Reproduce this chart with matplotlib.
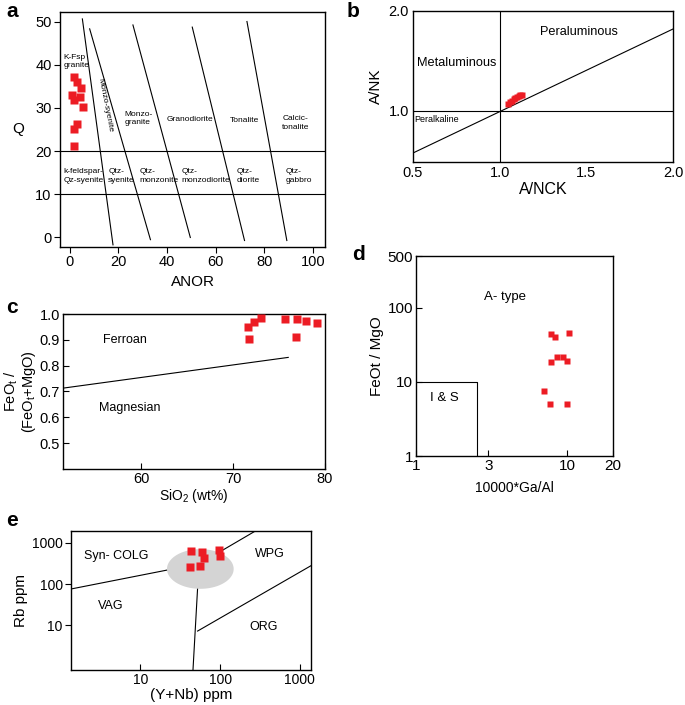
import numpy as np
import matplotlib
matplotlib.use("Agg")
import matplotlib.pyplot as plt

plt.rcParams["font.family"] = ["Liberation Sans", "DejaVu Sans"]
plt.rcParams["mathtext.fontset"] = "custom"
plt.rcParams["mathtext.rm"] = "Liberation Sans"
plt.rcParams["mathtext.it"] = "Liberation Sans:italic"
plt.rcParams["axes.linewidth"] = 1.0

RED = "#ec1c24"
W, H = 685, 705

# --- a: Q vs ANOR ---
anor_x = [1.6, 3.0, 4.5, 1.1, 4.1, 1.6, 5.5, 3.0, 1.6, 1.6]
anor_q = [37.2, 36.0, 34.6, 33.1, 32.5, 31.8, 30.2, 26.2, 25.2, 21.2]
anor_bounds = [
    [(5.2, 50.6), (17.8, -1.7)],
    [(8.2, 48.3), (33.2, -0.5)],
    [(26.0, 49.2), (49.6, 0.0)],
    [(50.4, 48.7), (71.9, -0.7)],
    [(72.9, 50.0), (89.3, -0.7)],
]
anor_hlines = [20, 10]
anor_labels_top = [
    ("K-Fsp\ngranite", -2.7, 40.7),
    ("Monzo-\ngranite", 22.6, 27.5),
    ("Granodiorite", 39.7, 27.4),
    ("Tonalite", 65.8, 27.0),
    ("Calcic-\ntonalite", 87.4, 26.5),
]
anor_labels_low = [
    ("k-feldspar-\nQz-syenite", -2.7),
    ("Qtz-\nsyenite", 15.8),
    ("Qtz-\nmonzonite", 28.8),
    ("Qtz-\nmonzodiorite", 45.9),
    ("Qtz-\ndiorite", 68.5),
    ("Qtz-\ngabbro", 88.8),
]

# --- b: A/NK vs A/NCK ---
anck = [1.05, 1.06, 1.07, 1.08, 1.09, 1.10, 1.11, 1.12, 1.13]
ank = [1.07, 1.09, 1.10, 1.12, 1.13, 1.14, 1.15, 1.16, 1.16]
anck_diag = [(0.5, 0.58), (2.0, 1.82)]

# --- c: FeOt/(FeOt+MgO) vs SiO2 ---
sio2 = [71.6, 71.7, 72.3, 73.0, 75.7, 76.9, 76.8, 77.9, 79.1]
fe_ratio = [0.950, 0.903, 0.968, 0.984, 0.982, 0.981, 0.911, 0.972, 0.965]
ferroan_line = [(51.5, 0.713), (76.0, 0.832)]

# --- d: FeOt/MgO vs 10000*Ga/Al ---
ga_al = [7.85, 8.33, 10.2, 7.77, 8.59, 9.35, 9.97, 7.03, 7.65, 9.88]
feo_mgo = [44.1, 39.8, 45.0, 18.7, 22.0, 21.5, 19.4, 7.5, 5.1, 5.1]
is_box = (2.52, 10)

# --- e: Rb vs Y+Nb ---
ynb = [43.2, 59.3, 63.4, 95.8, 98.6, 41.4, 55.3]
rb = [650, 594, 425, 676, 483, 266, 277]
rb_bounds = [
    [(1.35, 76.5), (21.9, 221)],
    [(52.2, 79.5), (45.7, 0.83)],
    [(100, 615), (277, 1950)],
    [(52.2, 7.3), (1380, 281)],
]
field_center = (56.5, 234)
field_half = (0.418, 0.481)


def px_axes(fig, l, t, r, b):
    return fig.add_axes([l / W, 1 - b / H, (r - l) / W, (b - t) / H])


def squares(ax, x, y, ms=5.3):
    ax.plot(x, y, "s", ms=ms, color=RED, mec="none", clip_on=False, zorder=5)


fig = plt.figure(figsize=(W / 100, H / 100), dpi=100)

# panel a
ax = px_axes(fig, 60, 12, 325, 247)
for (x0, y0), (x1, y1) in anor_bounds:
    ax.plot([x0, x1], [y0, y1], color="k", lw=0.8)
for yv in anor_hlines:
    ax.axhline(yv, color="k", lw=0.8)
squares(ax, anor_x, anor_q)
for txt, x, y in anor_labels_top:
    ax.text(x, y, txt, fontsize=6, va="center", ha="left", linespacing=1.3)
for txt, x in anor_labels_low:
    ax.text(x, 14.2, txt, fontsize=6, va="center", ha="left", linespacing=1.3)
ax.text(14.4, 30.5, "Monzo-syenite", fontsize=6, rotation=-79,
        ha="center", va="center")
ax.set_xlim(-4, 105)
ax.set_ylim(-2.2, 52.2)
ax.set_xticks(range(0, 101, 20))
ax.set_yticks(range(0, 51, 10))
ax.tick_params(direction="out", length=4, width=0.8, labelsize=10.5, pad=2)
ax.set_xlabel("ANOR", fontsize=11, labelpad=4)
ax.set_ylabel("Q", fontsize=11, rotation=0, labelpad=12, va="center")

# panel b
ax = px_axes(fig, 413, 11, 673, 162)
ax.axvline(1.0, color="k", lw=0.8)
ax.axhline(1.0, color="k", lw=0.8)
ax.plot([p[0] for p in anck_diag], [p[1] for p in anck_diag], color="k", lw=0.8)
squares(ax, anck, ank, ms=4.8)
ax.text(1.233, 1.793, "Peraluminous", fontsize=9.2, va="center")
ax.text(0.523, 1.483, "Metaluminous", fontsize=9.2, va="center")
ax.text(0.508, 0.917, "Peralkaline", fontsize=6.5, va="center")
ax.set_xlim(0.5, 2.0)
ax.set_ylim(0.49, 2.0)
ax.set_xticks([0.5, 1.0, 1.5, 2.0], labels=["0.5", "1.0", "1.5", "2.0"])
ax.set_yticks([1.0, 2.0], labels=["1.0", "2.0"])
ax.tick_params(length=0, labelsize=10.5, pad=3)
ax.set_xlabel("A/NCK", fontsize=11.5, labelpad=1)
ax.set_ylabel("A/NK", fontsize=11, labelpad=4)

# panel c
ax = px_axes(fig, 63, 314, 325, 469)
ax.plot([p[0] for p in ferroan_line], [p[1] for p in ferroan_line], color="k", lw=0.8)
squares(ax, sio2, fe_ratio)
ax.text(55.8, 0.898, "Ferroan", fontsize=9, va="center")
ax.text(55.4, 0.636, "Magnesian", fontsize=9, va="center")
ax.set_xlim(51.5, 79.7)
ax.set_ylim(0.4, 1.0)
ax.set_xticks([60, 70, 80])
ax.set_yticks([0.5, 0.6, 0.7, 0.8, 0.9, 1.0])
ax.tick_params(direction="in", length=4, width=0.8, labelsize=10.5, pad=2)
ax.set_xlabel("SiO$_2$ (wt%)", fontsize=10, labelpad=1)
ax.set_ylabel("FeO$_\\mathrm{t}$ /\n(FeO$_\\mathrm{t}$+MgO)", fontsize=10.5,
              labelpad=1, linespacing=1.0)

# panel d
ax = px_axes(fig, 416, 256, 613, 456)
ax.set_xscale("log")
ax.set_yscale("log")
ax.plot([1, is_box[0], is_box[0]], [is_box[1], is_box[1], 1], color="k", lw=0.8)
squares(ax, ga_al, feo_mgo, ms=5)
ax.text(2.8, 142, "A- type", fontsize=9.5, va="center")
ax.text(1.23, 6.0, "I & S", fontsize=9.5, va="center")
ax.set_xlim(1, 19.2)
ax.set_ylim(1, 500)
ax.set_xticks([1, 3, 10, 20], labels=["1", "3", "10", "20"])
ax.set_yticks([1, 10, 100, 500], labels=["1", "10", "100", "500"])
ax.minorticks_off()
ax.tick_params(direction="in", length=4, width=0.8, labelsize=11, pad=2)
ax.set_xlabel("10000*Ga/Al", fontsize=10, labelpad=6)
ax.set_ylabel("FeOt / MgO", fontsize=11, labelpad=3)

# panel e
ax = px_axes(fig, 71, 531, 311, 670)
ax.set_xscale("log")
ax.set_yscale("log")
for (x0, y0), (x1, y1) in rb_bounds:
    ax.plot([x0, x1], [y0, y1], color="k", lw=0.8, zorder=1)
t = np.linspace(0, 2 * np.pi, 200)
ex = 10 ** (np.log10(field_center[0]) + field_half[0] * np.cos(t))
ey = 10 ** (np.log10(field_center[1]) + field_half[1] * np.sin(t))
ax.fill(ex, ey, color="#d4d4d4", lw=0, zorder=2)
squares(ax, ynb, rb)
ax.text(1.94, 483, "Syn- COLG", fontsize=9, va="center")
ax.text(277, 541, "WPG", fontsize=9, va="center")
ax.text(2.9, 29.6, "VAG", fontsize=9, va="center")
ax.text(234, 9.3, "ORG", fontsize=9, va="center")
ax.set_xlim(1.35, 1380)
ax.set_ylim(0.83, 1950)
ax.set_xticks([10, 100, 1000], labels=["10", "100", "1000"])
ax.set_yticks([10, 100, 1000], labels=["10", "100", "1000"])
ax.minorticks_off()
ax.tick_params(axis="x", direction="in", length=4, width=0.8, labelsize=10, pad=2)
ax.tick_params(axis="y", direction="out", length=4, width=0.8, labelsize=10, pad=2)
ax.set_xlabel("(Y+Nb) ppm", fontsize=11, labelpad=1)
ax.set_ylabel("Rb ppm", fontsize=11, labelpad=3)

# panel letters
for letter, px, py in [("a", 6, 2), ("b", 347, 2), ("c", 6, 298),
                       ("d", 352, 245), ("e", 6, 511)]:
    fig.text(px / W, 1 - py / H, letter, fontsize=15, fontweight="bold",
             ha="left", va="top")

fig.savefig("out.png", dpi=100)
